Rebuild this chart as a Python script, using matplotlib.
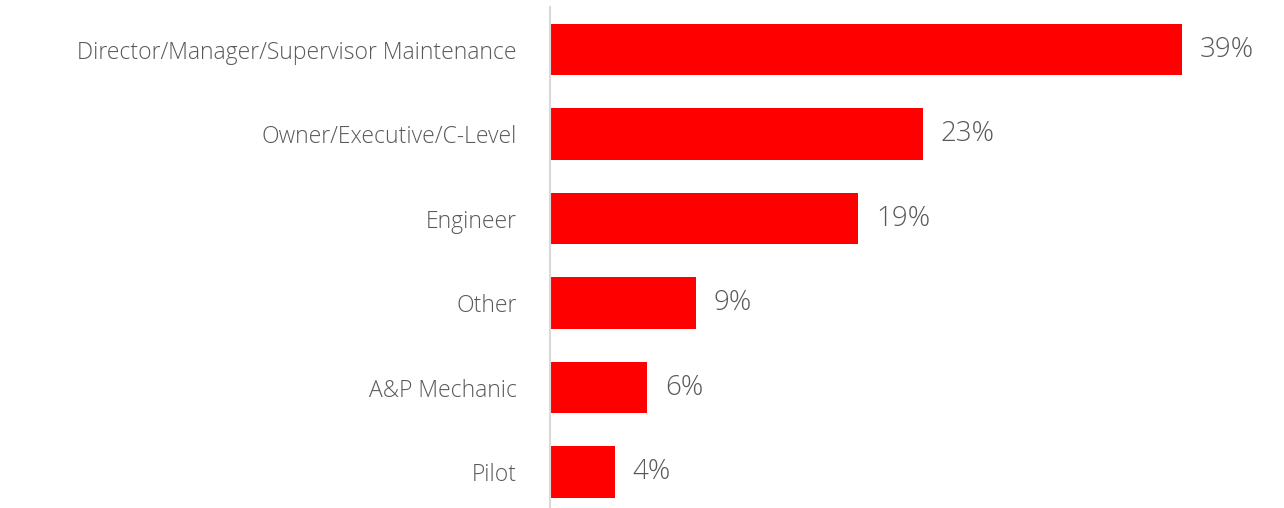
import matplotlib
matplotlib.use('Agg')
import matplotlib.pyplot as plt
import numpy as np

categories = ['Director/Manager/Supervisor Maintenance', 'Owner/Executive/C-Level',
              'Engineer', 'Other', 'A&P Mechanic', 'Pilot']
shares = [39, 23, 19, 9, 6, 4]

plt.rcParams['font.family'] = ['Open Sans', 'DejaVu Sans']

fig = plt.figure(figsize=(12.84, 5.08), dpi=100)
ax = fig.add_axes([550 / 1284, 0, 734 / 1284, 501 / 508])

y = np.arange(len(categories))
ax.barh(y, shares, height=0.615, color='#ff0000')

# percentage labels just right of each bar
for yi, v in zip(y, shares):
    ax.annotate(f'{v}%', xy=(v, yi), xytext=(13, 0), textcoords='offset points',
                ha='left', va='center', fontsize=20, color='#595959', fontweight='light')

ax.set_xlim(0, 734 / 16.2)
ax.set_ylim(5.426, -0.503)
ax.set_yticks(y)
ax.set_yticklabels(categories, fontsize=16.5, color='#595959', fontweight='light')
ax.tick_params(axis='y', length=0, pad=24)
ax.set_xticks([])
for side in ['top', 'right', 'bottom']:
    ax.spines[side].set_visible(False)
ax.spines['left'].set_color('#d9d9d9')
ax.spines['left'].set_linewidth(1.5)

fig.savefig('out.png', dpi=100)
